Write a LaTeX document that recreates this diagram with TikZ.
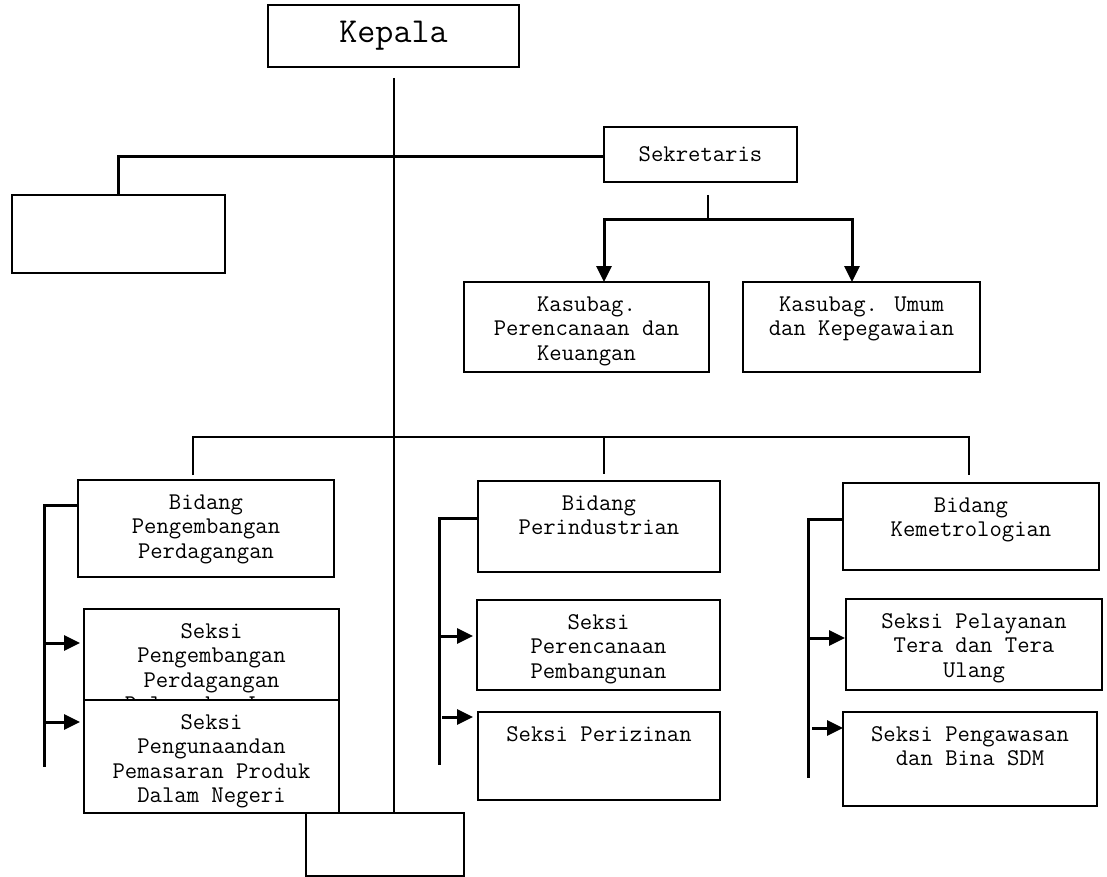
\documentclass[tikz,border=0pt]{standalone}
\usepackage{fontspec}
\usetikzlibrary{arrows.meta}
\newcommand{\btxt}[3]{\parbox[c][#2][t]{#1}{\centering\rule{0pt}{29.5pt}#3}}
\begin{document}
\begin{tikzpicture}[x=1pt,y=-1pt,
  every node/.style={font=\ttfamily\fontsize{24}{24.4}\selectfont},
  box/.style={draw,line width=1.8pt,fill=white,inner sep=0pt,outer sep=0pt},
  conn/.style={line width=1.8pt},
  thk/.style={line width=3pt},
  arr/.style={thk,-{Triangle[width=15pt,length=16pt]}}]
\useasboundingbox (0,0) rectangle (1107,877);

% top boxes
\node[box,minimum width=251pt,minimum height=62pt,font=\ttfamily\fontsize{35}{40}\selectfont] (kepala) at (393.5,36) {Kepala};
\node[box,minimum width=193pt,minimum height=55pt] (sek) at (700.5,154.5) {Sekretaris};
\node[box,minimum width=213pt,minimum height=78pt] (leftbox) at (118.5,234) {};
\node[box] (kasP) at (586.5,327) {\btxt{245pt}{90pt}{Kasubag.\\Perencanaan dan\\Keuangan}};
\node[box] (kasU) at (861.5,327) {\btxt{237pt}{90pt}{Kasubag. Umum\\dan Kepegawaian}};

% bidang
\node[box] (bidP) at (206,528.5) {\btxt{256pt}{97pt}{Bidang\\Pengembangan\\Perdagangan}};
\node[box] (bidI) at (599,526.5) {\btxt{242pt}{91pt}{Bidang\\Perindustrian}};
\node[box] (bidK) at (971,526.5) {\btxt{256pt}{87pt}{Bidang\\Kemetrologian}};

% seksi
\node[box] (skP1) at (211.5,669) {\btxt{255pt}{120pt}{Seksi\\Pengembangan\\Perdagangan\\Dalam dan Luar}};
\node[box] (skP2) at (211.5,756.5) {\btxt{255pt}{113pt}{Seksi\\Pengunaandan\\Pemasaran Produk\\Dalam Negeri}};
\node[box] (skI1) at (598.5,645) {\btxt{243pt}{90pt}{Seksi\\Perencanaan\\Pembangunan}};
\node[box] (skI2) at (599,756) {\btxt{242pt}{88pt}{Seksi Perizinan}};
\node[box] (skK1) at (974,644.5) {\btxt{256pt}{91pt}{Seksi Pelayanan\\Tera dan Tera\\Ulang}};
\node[box] (skK2) at (970,759) {\btxt{254pt}{94pt}{Seksi Pengawasan\\dan Bina SDM}};

% bottom empty box
\node[box,minimum width=158pt,minimum height=63pt] (bottom) at (385,844.5) {};

% Kepala stem
\coordinate (ks) at ([xshift=0.5pt,yshift=-11pt]kepala.south);
\draw[conn] (ks) -- (ks |- bottom.north);

% Sekretaris to left box
\draw[thk] ([yshift=-2.5pt]sek.west) -| (leftbox.north);

% Sekretaris to Kasubag
\coordinate (sj) at ([xshift=7.5pt,yshift=-38pt]sek.south);
\coordinate (kP) at ([xshift=17.5pt]kasP.north);
\coordinate (kU) at ([xshift=-9.5pt]kasU.north);
\draw[conn] ([xshift=7.5pt,yshift=-13pt]sek.south) -- (sj);
\draw[arr] (sj) -| (kP);
\draw[arr] (sj) -| (kU);

% Bidang bar
\path (ks) ++(0,359) coordinate (bj);
\draw[conn] ([xshift=-13pt,yshift=5pt]bidP.north) |- (bj) -| ([xshift=-2pt,yshift=8pt]bidK.north);
\coordinate (mI) at ([xshift=5pt,yshift=7pt]bidI.north);
\draw[conn] (mI |- bj) -- (mI);

% left bracket
\coordinate (lbP) at (44,767);
\draw[thk] ([yshift=23.5pt]bidP.west) -| (lbP);
\coordinate (aP1) at ([xshift=-4pt,yshift=26pt]skP1.west);
\coordinate (aP2) at ([xshift=-4pt,yshift=34.5pt]skP2.west);
\draw[arr] (aP1 -| lbP) -- (aP1);
\draw[arr] (aP2 -| lbP) -- (aP2);

% middle bracket
\coordinate (lbI) at (439,765);
\draw[thk] ([yshift=8.5pt]bidI.west) -| (lbI);
\coordinate (aI1) at ([xshift=-4pt,yshift=9pt]skI1.west);
\coordinate (aI2) at ([xshift=-5pt,yshift=39pt]skI2.west);
\draw[arr] (aI1 -| lbI) -- (aI1);
\draw[arr] ([xshift=3pt]aI2 -| lbI) -- (aI2);

% right bracket
\coordinate (lbK) at (808,778);
\draw[thk] ([yshift=7.5pt]bidK.west) -| (lbK);
\coordinate (aK1) at ([xshift=-1pt,yshift=6.5pt]skK1.west);
\coordinate (aK2) at ([yshift=31pt]skK2.west);
\draw[arr] ([xshift=2pt]aK1 -| lbK) -- (aK1);
\draw[arr] ([xshift=4pt]aK2 -| lbK) -- (aK2);
\end{tikzpicture}
\end{document}
